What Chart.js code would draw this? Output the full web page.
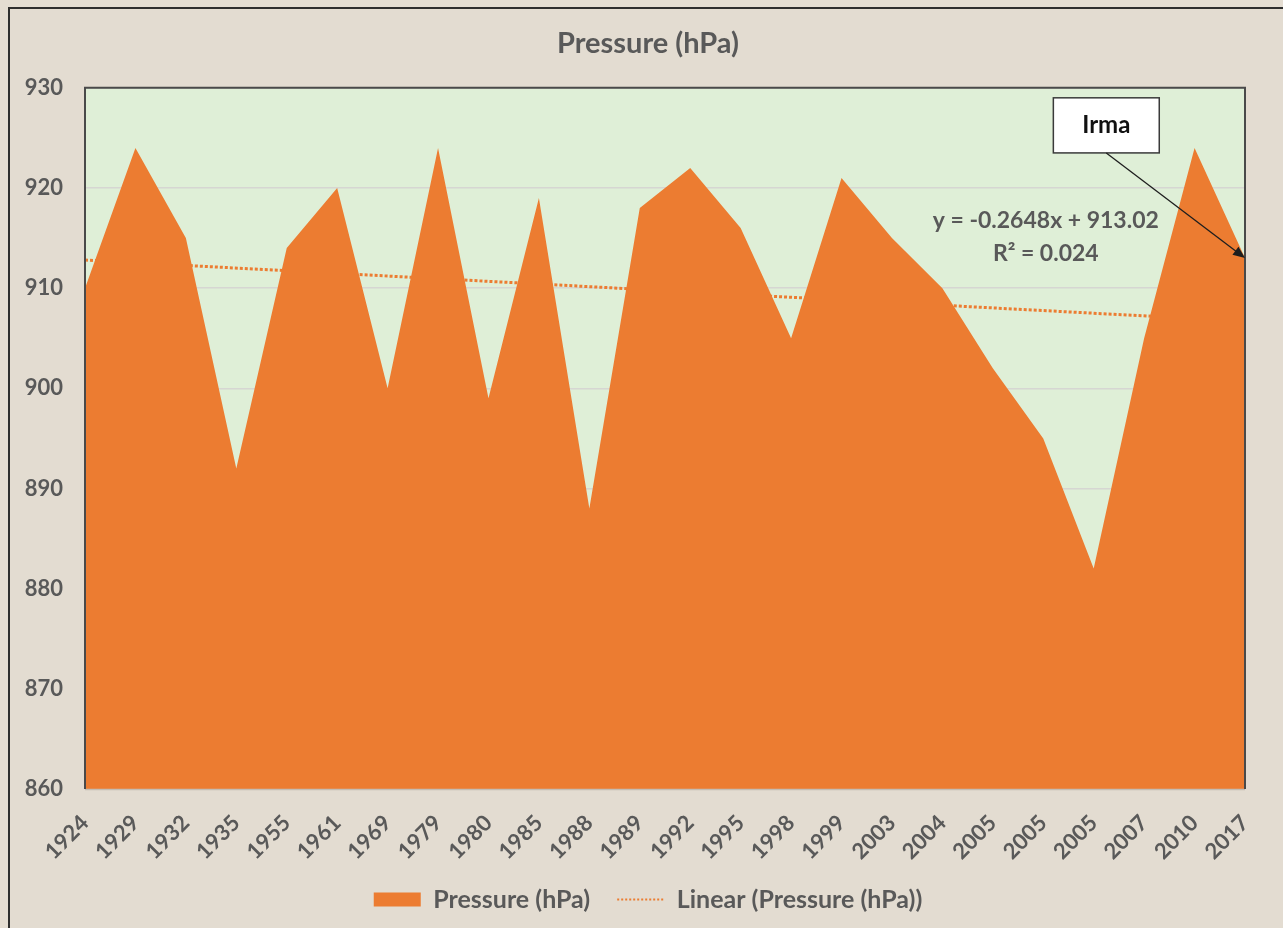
<!DOCTYPE html>
<html>
<head>
<meta charset="utf-8">
<script src="https://cdn.jsdelivr.net/npm/chart.js@4.4.0/dist/chart.umd.min.js"></script>
<style>
    body { margin: 0; background: #e4ddd2; overflow: hidden; }
    #frame {
        position: absolute; left: 8px; top: 7px; width: 1300px; height: 940px;
        border-left: 2px solid #2e2e2e; border-top: 2px solid #2e2e2e;
        background: #e3dcd1;
    }
    #holder { position: absolute; left: 0; top: 0; width: 1296px; height: 928px; }
</style>
</head>
<body>
<div id="frame"></div>
<div id="holder"><canvas id="pressure-chart"></canvas></div>
<script>
var years = ["1924", "1929", "1932", "1935", "1955", "1961", "1969", "1979", "1980", "1985", "1988", "1989",
    "1992", "1995", "1998", "1999", "2003", "2004", "2005", "2005", "2005", "2007", "2010", "2017"];
var pressure = [910, 924, 915, 892, 914, 920, 900, 924, 899, 919, 888, 918,
    922, 916, 905, 921, 915, 910, 902, 895, 882, 905, 924, 913];
// trendline ends (first and last category)
var trendEnds = [912.8, 906.7];
var yTicks = [860, 870, 880, 890, 900, 910, 920, 930];

var seriesName = "Pressure (hPa)";
var trendName = "Linear (Pressure (hPa))";
var equationText = ["y = -0.2648x + 913.02", "R\u00b2 = 0.024"];
var calloutText = "Irma";

var orange = "#ec7c31";
var textGrey = "#595959";
var fontFamily = "Lato, 'Open Sans', sans-serif";

var trendValues = years.map(function (y, i) {
    if (i === 0) return trendEnds[0];
    if (i === years.length - 1) return trendEnds[1];
    return null;
});

var plotFrame = {
    id: "plotFrame",
    beforeDraw: function (chart) {
        var a = chart.chartArea, ctx = chart.ctx;
        ctx.save();
        ctx.fillStyle = "#dfefd7";
        ctx.fillRect(a.left, a.top, a.right - a.left, a.bottom - a.top);
        ctx.restore();
    },
    afterDatasetsDraw: function (chart) {
        var a = chart.chartArea, ctx = chart.ctx;
        var xs = chart.scales.x, ys = chart.scales.y;
        ctx.save();
        ctx.strokeStyle = "#c4bcb2";
        ctx.lineWidth = 1.5;
        ctx.beginPath();
        ctx.moveTo(a.left, a.bottom + 0.5);
        ctx.lineTo(a.right, a.bottom + 0.5);
        ctx.stroke();
        ctx.strokeStyle = "#4a4a4a";
        ctx.lineWidth = 2;
        ctx.beginPath();
        ctx.moveTo(a.left, a.bottom);
        ctx.lineTo(a.left, a.top);
        ctx.lineTo(a.right, a.top);
        ctx.lineTo(a.right, a.bottom);
        ctx.stroke();

        // trendline equation
        ctx.fillStyle = textGrey;
        ctx.font = "bold 23px " + fontFamily;
        ctx.textAlign = "center";
        ctx.textBaseline = "middle";
        var ex = xs.getPixelForValue(19.05);
        ctx.fillText(equationText[0], ex, ys.getPixelForValue(916.7));
        ctx.fillText(equationText[1], ex, ys.getPixelForValue(913.5));

        // Irma callout
        var bx1 = xs.getPixelForValue(19.2), bx2 = xs.getPixelForValue(21.3);
        var by1 = ys.getPixelForValue(929.0), by2 = ys.getPixelForValue(923.5);
        ctx.fillStyle = "#ffffff";
        ctx.fillRect(bx1, by1, bx2 - bx1, by2 - by1);
        ctx.strokeStyle = "#3a3a3a";
        ctx.lineWidth = 1.5;
        ctx.strokeRect(bx1, by1, bx2 - bx1, by2 - by1);
        ctx.fillStyle = "#111111";
        ctx.font = "bold 24px " + fontFamily;
        ctx.fillText(calloutText, (bx1 + bx2) / 2, (by1 + by2) / 2);

        var last = years.length - 1;
        var sx = (bx1 + bx2) / 2, sy = by2;
        var tx = xs.getPixelForValue(last), ty = ys.getPixelForValue(pressure[last]);
        var ang = Math.atan2(ty - sy, tx - sx);
        ctx.strokeStyle = "#1e1e1e";
        ctx.lineWidth = 1.3;
        ctx.beginPath();
        ctx.moveTo(sx, sy);
        ctx.lineTo(tx - 8 * Math.cos(ang), ty - 8 * Math.sin(ang));
        ctx.stroke();
        ctx.fillStyle = "#1e1e1e";
        ctx.beginPath();
        ctx.moveTo(tx, ty);
        ctx.lineTo(tx - 12 * Math.cos(ang) + 5 * Math.sin(ang), ty - 12 * Math.sin(ang) - 5 * Math.cos(ang));
        ctx.lineTo(tx - 12 * Math.cos(ang) - 5 * Math.sin(ang), ty - 12 * Math.sin(ang) + 5 * Math.cos(ang));
        ctx.closePath();
        ctx.fill();
        ctx.restore();
    }
};

new Chart(document.getElementById("pressure-chart"), {
    type: "line",
    data: {
        labels: years,
        datasets: [
            {
                label: seriesName,
                data: pressure,
                fill: "start",
                backgroundColor: orange,
                borderWidth: 0,
                pointRadius: 0,
                tension: 0,
                order: 1
            },
            {
                label: trendName,
                data: trendValues,
                spanGaps: true,
                fill: false,
                borderColor: orange,
                borderWidth: 3,
                borderDash: [3, 2],
                pointRadius: 0,
                order: 2
            }
        ]
    },
    options: {
        responsive: true,
        maintainAspectRatio: false,
        animation: false,
        layout: {
            padding: { left: 0, right: 0, top: 0, bottom: 6 }
        },
        scales: {
            x: {
                offset: false,
                grid: { display: false },
                border: { display: false },
                ticks: {
                    autoSkip: false,
                    maxRotation: 45,
                    minRotation: 45,
                    padding: 13,
                    color: textGrey,
                    font: { family: fontFamily, size: 22, weight: "bold" }
                },
                afterFit: function (scale) {
                    scale.height = 71;
                    scale.paddingLeft = 0;
                    scale.paddingRight = 0;
                }
            },
            y: {
                min: yTicks[0],
                max: yTicks[yTicks.length - 1],
                afterBuildTicks: function (scale) {
                    scale.ticks = yTicks.map(function (v) { return { value: v }; });
                },
                grid: { color: "#d6d6d2", lineWidth: 1.5, drawTicks: false },
                border: { display: false },
                ticks: {
                    padding: 22,
                    color: textGrey,
                    font: { family: fontFamily, size: 22, weight: "bold" }
                },
                afterFit: function (scale) {
                    scale.width = 85;
                }
            },
            // empty right-hand axis, only keeps the outer margin right of the plot
            spacer: {
                position: "right",
                min: yTicks[0],
                max: yTicks[yTicks.length - 1],
                grid: { display: false },
                border: { display: false },
                ticks: { display: false },
                afterFit: function (scale) {
                    scale.width = 51;
                }
            }
        },
        plugins: {
            title: {
                display: true,
                text: seriesName,
                color: textGrey,
                font: { family: fontFamily, size: 29, weight: "bold" },
                padding: { top: 26, bottom: 27 }
            },
            legend: {
                position: "bottom",
                labels: {
                    usePointStyle: true,
                    pointStyleWidth: 47,
                    boxHeight: 14,
                    padding: 27,
                    color: textGrey,
                    font: { family: fontFamily, size: 25, weight: "bold" },
                    generateLabels: function (chart) {
                        return [
                            {
                                text: seriesName, datasetIndex: 0, pointStyle: "rect",
                                fillStyle: orange, strokeStyle: orange, lineWidth: 0,
                                fontColor: textGrey
                            },
                            {
                                text: trendName, datasetIndex: 1, pointStyle: "line",
                                fillStyle: orange, strokeStyle: orange, lineWidth: 2,
                                lineDash: [2, 2], fontColor: textGrey
                            }
                        ];
                    }
                }
            },
            tooltip: { enabled: false }
        }
    },
    plugins: [plotFrame]
});
</script>
</body>
</html>
